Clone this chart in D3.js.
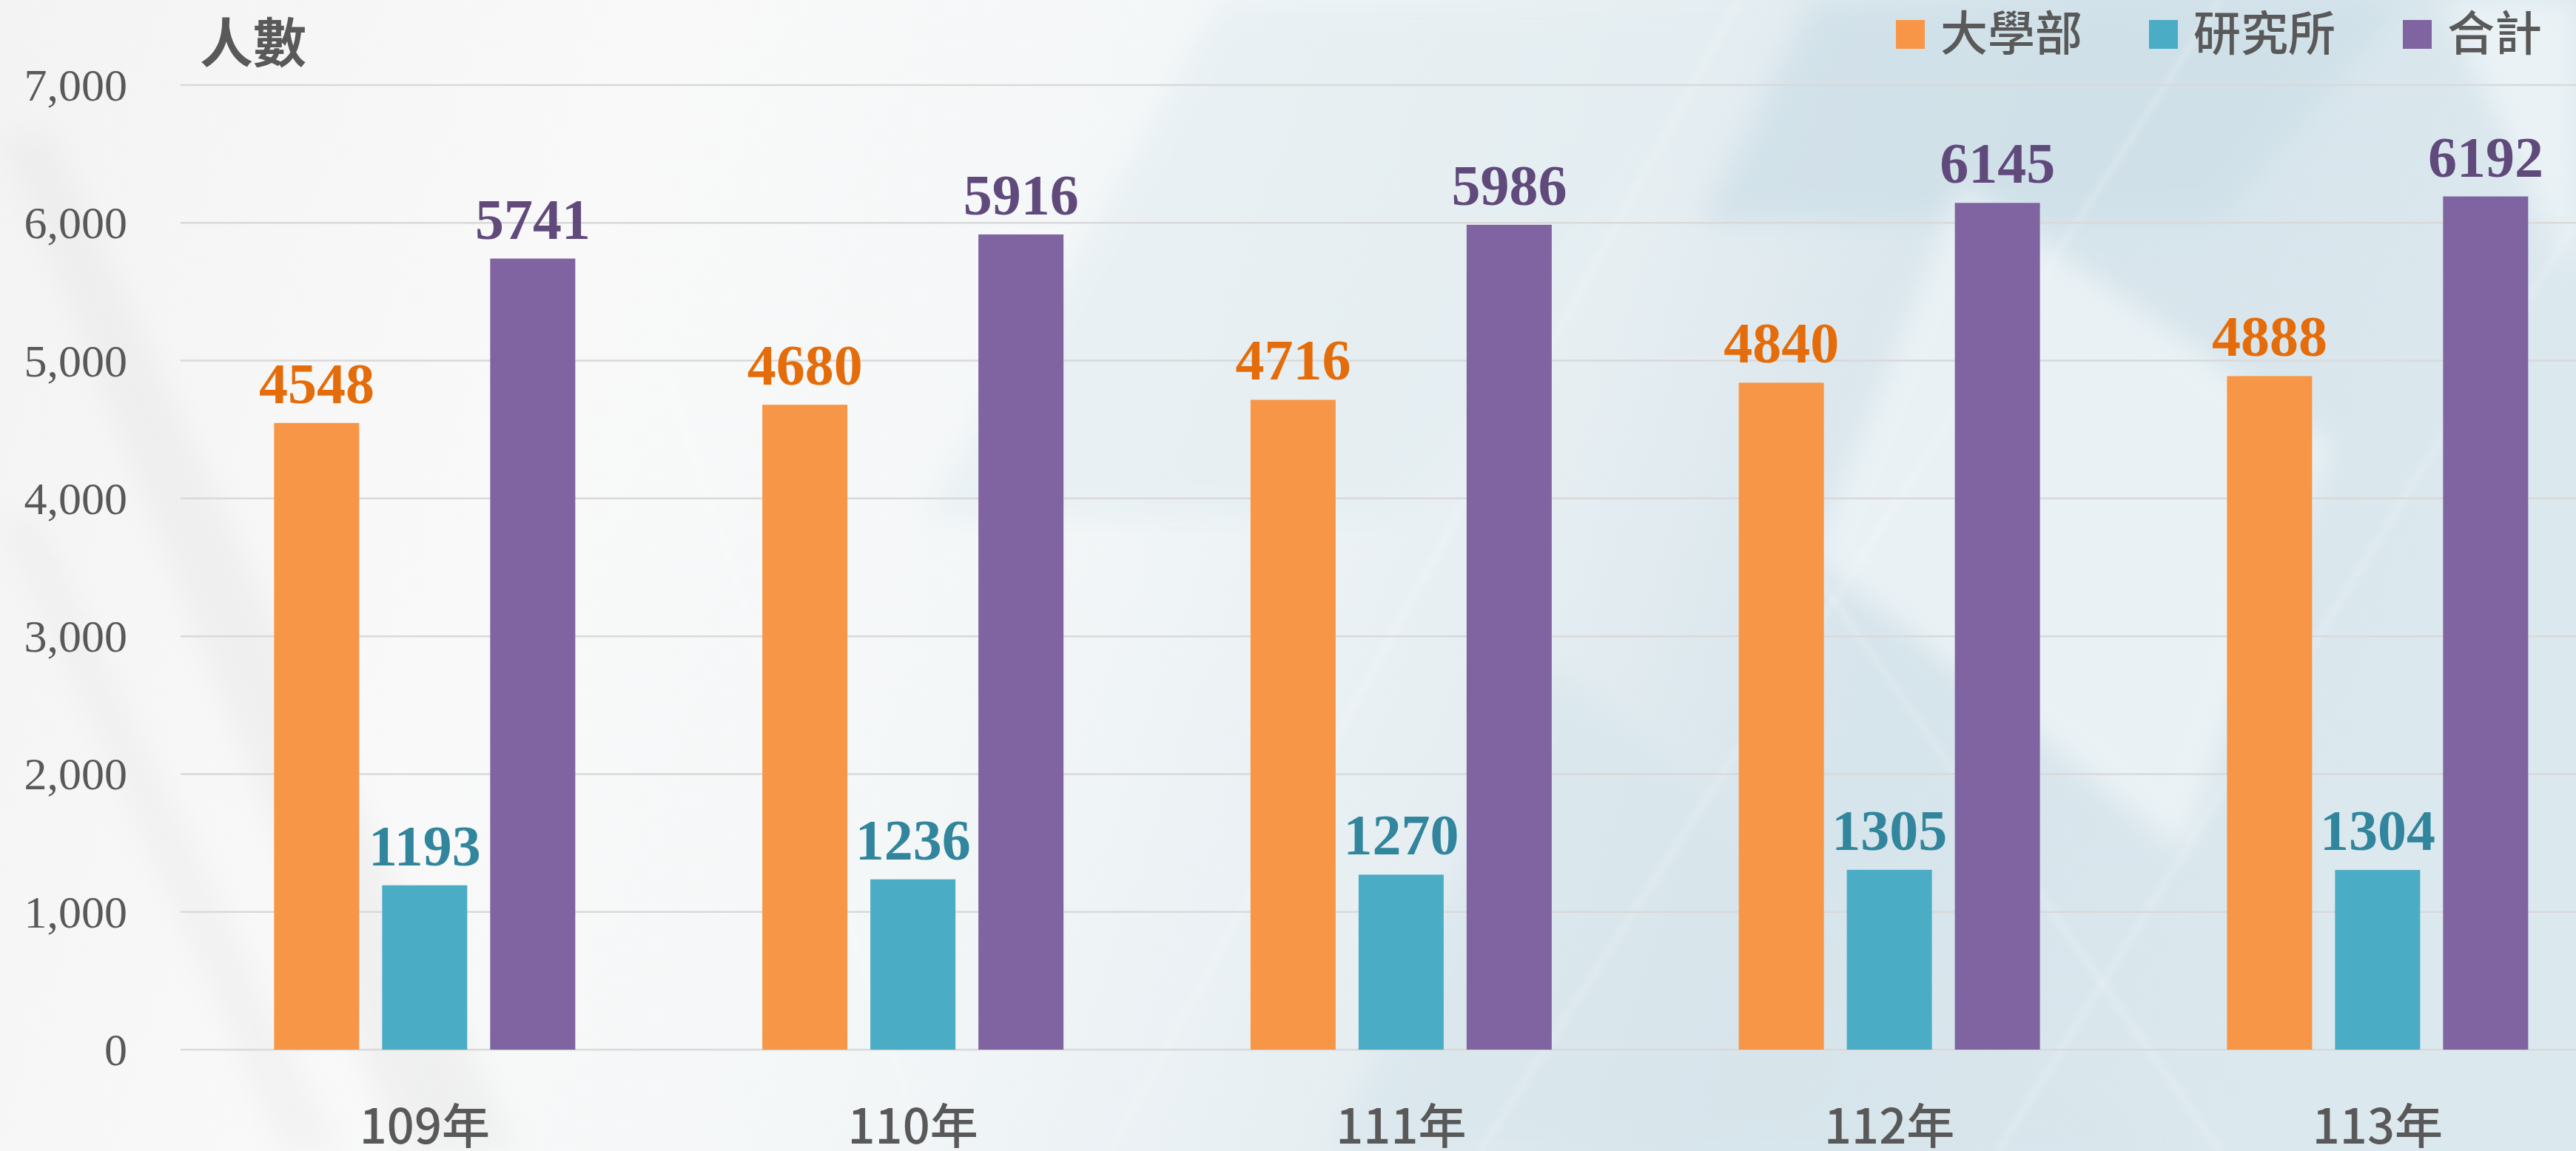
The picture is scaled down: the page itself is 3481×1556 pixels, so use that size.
<!DOCTYPE html>
<html>
<head>
<meta charset="utf-8">
<script src="https://cdn.jsdelivr.net/npm/d3@7"></script>
<style>
  body { margin: 0; overflow: hidden; }
</style>
</head>
<body>
<div id="container"></div>
<script>
let w = 3481;
let h = 1556;

// data
let years = ['109年', '110年', '111年', '112年', '113年'];
let seriesNames = ['大學部', '研究所', '合計'];
let undergrad = [4548, 4680, 4716, 4840, 4888];
let graduate = [1193, 1236, 1270, 1305, 1304];
let total = [5741, 5916, 5986, 6145, 6192];
let yTicks = [0, 1000, 2000, 3000, 4000, 5000, 6000, 7000];

let barColors = ['#F79646', '#4BACC6', '#8064A2'];
let labelColors = ['#E46C0A', '#31859C', '#604A7B'];

let viz = d3.select('#container')
  .append('svg')
    .attr('width', w)
    .attr('height', h)
;

// ---- background ----
let defs = viz.append('defs');

let bgGrad = defs.append('linearGradient')
    .attr('id', 'bg')
    .attr('x1', 0).attr('y1', 0)
    .attr('x2', 1).attr('y2', 0.15);
bgGrad.append('stop').attr('offset', '0%').attr('stop-color', '#f3f3f3');
bgGrad.append('stop').attr('offset', '25%').attr('stop-color', '#f9f9f9');
bgGrad.append('stop').attr('offset', '45%').attr('stop-color', '#f4f7f8');
bgGrad.append('stop').attr('offset', '65%').attr('stop-color', '#e6eef2');
bgGrad.append('stop').attr('offset', '80%').attr('stop-color', '#d6e4eb');
bgGrad.append('stop').attr('offset', '100%').attr('stop-color', '#dbe8ee');

defs.append('filter')
    .attr('id', 'soft')
    .attr('x', '-20%').attr('y', '-20%')
    .attr('width', '140%').attr('height', '140%')
  .append('feGaussianBlur')
    .attr('stdDeviation', 18);

defs.append('filter')
    .attr('id', 'soft2')
    .attr('x', '-20%').attr('y', '-20%')
    .attr('width', '140%').attr('height', '140%')
  .append('feGaussianBlur')
    .attr('stdDeviation', 5);

viz.append('rect')
    .attr('width', w)
    .attr('height', h)
    .attr('fill', 'url(#bg)');

let bgShapes = viz.append('g').classed('bgShapes', true);

// soft grey streaks on the left
bgShapes.append('path')
    .attr('d', 'M0,180 L70,180 L700,1556 L540,1556 Z')
    .attr('fill', '#e6e6e6')
    .attr('opacity', 0.45)
    .attr('filter', 'url(#soft)');
bgShapes.append('path')
    .attr('d', 'M0,700 L50,700 L460,1556 L380,1556 Z')
    .attr('fill', '#e8e8e8')
    .attr('opacity', 0.4)
    .attr('filter', 'url(#soft)');

// bluish region in the middle top
bgShapes.append('path')
    .attr('d', 'M1650,0 L2400,0 L1900,700 L1250,700 Z')
    .attr('fill', '#e3edf1')
    .attr('opacity', 0.6)
    .attr('filter', 'url(#soft)');

// blue band behind the legend
bgShapes.append('path')
    .attr('d', 'M2450,0 L3250,0 L3000,300 L2300,300 Z')
    .attr('fill', '#cfe0e8')
    .attr('opacity', 0.8)
    .attr('filter', 'url(#soft)');

// blue bottom area
bgShapes.append('path')
    .attr('d', 'M2100,900 L2900,1556 L1800,1556 Z')
    .attr('fill', '#d8e6ec')
    .attr('opacity', 0.7)
    .attr('filter', 'url(#soft)');

// light diamond on the right
bgShapes.append('path')
    .attr('d', 'M2650,250 L3150,600 L2950,1150 L2450,750 Z')
    .attr('fill', '#f2f7f9')
    .attr('opacity', 0.7)
    .attr('filter', 'url(#soft)');
bgShapes.append('path')
    .attr('d', 'M3300,0 L3481,0 L3481,380 Z')
    .attr('fill', '#f2f7f9')
    .attr('opacity', 0.7)
    .attr('filter', 'url(#soft)');

// thin diagonal lines
let lines = [
  [1500, 1556, 2350, 0],
  [2000, 1556, 3000, 0],
  [2700, 1556, 3481, 300],
  [900, 500, 1250, 1556],
  [3000, 1556, 2400, 700]
];
bgShapes.selectAll('line').data(lines).enter().append('line')
    .attr('x1', d => d[0]).attr('y1', d => d[1])
    .attr('x2', d => d[2]).attr('y2', d => d[3])
    .attr('stroke', '#ffffff')
    .attr('stroke-width', 5)
    .attr('opacity', 0.3)
    .attr('filter', 'url(#soft2)');

// ---- scales ----
let xScale = d3.scaleBand()
    .domain(years)
    .range([244, 244 + 5 * 659.75])
    .padding(0);

let xInner = d3.scaleBand()
    .domain(seriesNames)
    .range([0, 407])
    .paddingInner(31 / 146)
    .paddingOuter(0);

let yScale = d3.scaleLinear()
    .domain([0, 7000])
    .range([1419, 115]);

// ---- grid ----
let gridGroup = viz.append('g').classed('grid', true);
gridGroup.selectAll('line').data(yTicks).enter().append('line')
    .attr('x1', 244)
    .attr('x2', w)
    .attr('y1', d => yScale(d))
    .attr('y2', d => yScale(d))
    .attr('stroke', '#d9d9d9')
    .attr('stroke-width', 2.5)
;

// y axis labels
let yAxis = d3.axisLeft(yScale)
    .tickValues(yTicks)
    .tickFormat(d3.format(','))
    .tickSize(0)
    .tickPadding(0);

let yAxisGroup = viz.append('g')
    .attr('class', 'yaxisgroup')
    .attr('transform', 'translate(172,0)')
    .call(yAxis);
yAxisGroup.select('.domain').remove();
yAxisGroup.selectAll('text')
    .attr('font-family', '"Liberation Serif", "Times New Roman", serif')
    .attr('font-size', '62px')
    .attr('fill', '#595959')
    .attr('dy', '0.33em');

// x axis labels
let xAxis = d3.axisBottom(xScale)
    .tickSize(0)
    .tickPadding(0);

let xAxisGroup = viz.append('g')
    .attr('class', 'xaxisgroup')
    .attr('transform', 'translate(0,1546)')
    .call(xAxis);
xAxisGroup.select('.domain').remove();
xAxisGroup.selectAll('text')
    .attr('font-family', '"Noto Sans CJK TC", "Noto Sans", sans-serif')
    .attr('font-size', '65px')
    .attr('font-weight', 500)
    .attr('fill', '#595959')
    .attr('y', 0)
    .attr('dy', 0);

// ---- bars ----
let tableRows = years.map(function(yr, i) {
  return {
    year: yr,
    values: [
      { name: seriesNames[0], value: undergrad[i], k: 0 },
      { name: seriesNames[1], value: graduate[i], k: 1 },
      { name: seriesNames[2], value: total[i], k: 2 }
    ]
  };
});

let groups = viz.append('g').classed('bars', true)
  .selectAll('g').data(tableRows).enter().append('g')
    .attr('transform', d => 'translate(' + (xScale(d.year) + xScale.bandwidth() / 2 - 203.5) + ',0)');

groups.selectAll('rect').data(d => d.values).enter().append('rect')
    .attr('x', d => xInner(d.name))
    .attr('y', d => yScale(d.value))
    .attr('width', xInner.bandwidth())
    .attr('height', d => yScale(0) - yScale(d.value))
    .attr('fill', d => barColors[d.k])
;

groups.selectAll('text').data(d => d.values).enter().append('text')
    .attr('x', d => xInner(d.name) + xInner.bandwidth() / 2)
    .attr('y', d => yScale(d.value) - 27)
    .attr('text-anchor', 'middle')
    .attr('font-family', '"Liberation Serif", "Times New Roman", serif')
    .attr('font-weight', 'bold')
    .attr('font-size', '78px')
    .attr('fill', d => labelColors[d.k])
    .text(d => d.value)
;

// ---- axis title ----
viz.append('text')
    .attr('x', 270)
    .attr('y', 84)
    .attr('font-family', '"Noto Sans CJK TC", sans-serif')
    .attr('font-size', '72px')
    .attr('font-weight', 700)
    .attr('fill', '#595959')
    .text('人數');

// ---- legend ----
let legendX = [2562, 2904, 3247];
let legend = viz.append('g').classed('legend', true)
  .selectAll('g').data(seriesNames).enter().append('g')
    .attr('transform', (d, i) => 'translate(' + legendX[i] + ',27)');

legend.append('rect')
    .attr('width', 39)
    .attr('height', 39)
    .attr('fill', (d, i) => barColors[i]);

legend.append('text')
    .attr('x', 60)
    .attr('y', 41)
    .attr('font-family', '"Noto Sans CJK TC", sans-serif')
    .attr('font-size', '64px')
    .attr('font-weight', 500)
    .attr('fill', '#595959')
    .text(d => d);

// slide number peeking at the bottom
viz.append('text')
    .attr('x', 3300)
    .attr('y', 1576)
    .attr('text-anchor', 'middle')
    .attr('font-family', '"Noto Sans", sans-serif')
    .attr('font-size', '28px')
    .attr('fill', '#8a8a8a')
    .text('13');
</script>
</body>
</html>
